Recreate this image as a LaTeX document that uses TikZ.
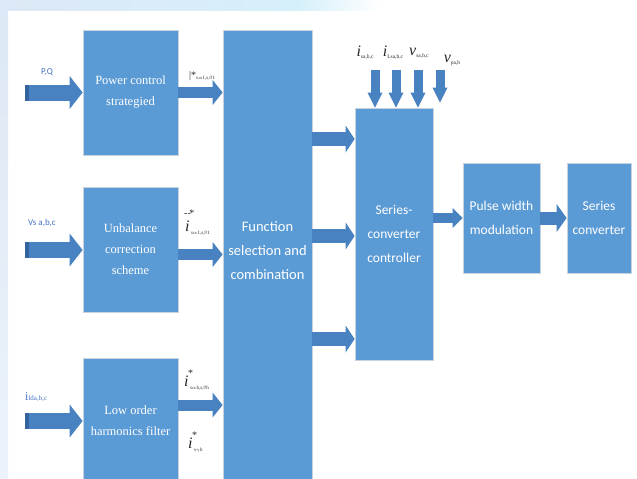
\documentclass[tikz,border=0pt]{standalone}
\usepackage{amsmath}
\usepackage{fontspec}
\setmainfont{Liberation Serif}
\newfontfamily\tnr{Liberation Serif}
\newfontfamily\carlito{Carlito}
\usetikzlibrary{arrows.meta,calc}
\definecolor{boxblue}{RGB}{91,155,213}
\definecolor{boxline}{RGB}{200,210,222}
\definecolor{arrowblue}{RGB}{72,130,192}
\definecolor{arrowdark}{RGB}{52,100,160}
\definecolor{labelblue}{RGB}{68,114,196}
\definecolor{bgblue}{RGB}{220,232,245}
\definecolor{bgcyan}{RGB}{214,240,250}
\newcommand{\isym}[2]{{\tnr\itshape\fontsize{16}{16}\selectfont #1}\raisebox{-2pt}{\tnr\fontsize{5.5}{5.5}\selectfont #2}}
\newcommand{\istar}[4][10pt]{\rlap{\raisebox{#1}{\tnr\fontsize{10}{10}\selectfont #4}}{\tnr\itshape\fontsize{16}{16}\selectfont #2}\raisebox{-3pt}{\tnr\fontsize{5}{5}\selectfont #3}}
\begin{document}
\begin{tikzpicture}[x=1pt,y=-1pt,
  blockbox/.style={draw=boxline, line width=0.8pt, fill=boxblue, text=white, align=center, inner sep=0pt},
  serifbox/.style={blockbox, font=\tnr\fontsize{12.5}{21}\selectfont},
  sansbox/.style={blockbox, font=\carlito\fontsize{13.5}{24}\selectfont},
  plaintext/.style={text=white, align=center, inner sep=0pt},
  fatarrow/.style n args={3}{draw=arrowblue, line width=#1, -{Triangle[length=#3, width=#2, line width=0pt]}},
  inlabel/.style={text=labelblue, font=\carlito\fontsize{9}{9}\selectfont, inner sep=0pt},
  mathlabel/.style={text=black!85, inner sep=0pt}
]
\useasboundingbox (0,0) rectangle (637,479);
% background edge tint
\shade[left color=bgblue, right color=bgcyan] (0,0) rectangle (300,10);
\shade[left color=bgcyan, right color=white] (300,0) rectangle (380,10);
\shade[top color=bgblue, bottom color=bgblue!55] (0,0) rectangle (8,479);

% blocks
\node[serifbox, minimum width=95pt, minimum height=125pt] (pc) at (130.5,92.5) {Power control\\strategied};
\node[serifbox, minimum width=95pt, minimum height=125pt] (ub) at (130.5,249.5) {Unbalance\\correction\\scheme};
\node[serifbox, minimum width=95pt, minimum height=126pt] (lo) at (130.5,421) {Low order\\harmonics filter};
\node[blockbox, minimum width=89pt, minimum height=470pt] (fs) at (267.5,265) {};
\node[plaintext, font=\carlito\fontsize{14.5}{24}\selectfont] (fst) at (267.5,251) {Function\\selection and\\combination};
\node[sansbox, minimum width=78pt, minimum height=252pt] (sc) at (394,234) {Series-\\converter\\controller};
\node[sansbox, minimum width=77pt, minimum height=110pt] (pwm) at (501.5,218) {Pulse width\\modulation};
\node[sansbox, minimum width=64pt, minimum height=110pt] (scv) at (599,218) {Series\\converter};

% input arrows
\coordinate (pcin) at (25,92.5);
\coordinate (ubin) at (25,250);
\coordinate (loin) at (25,421);
\foreach \c/\b in {pcin/pc, ubin/ub, loin/lo}{
  \draw[fatarrow={16pt}{33pt}{13pt}] (\c) -- (\b.west |- \c);
  \draw[draw=arrowdark, line width=16pt] (\c) -- ++(4,0);
}
\node[inlabel] (lpq) at (47,72) {P,Q};
\node[inlabel] (lvs) at (42,223) {Vs a,b,c};
\node[inlabel, anchor=west] (lil) at (25,397) {{\tnr\fontsize{12}{12}\selectfont i}{\tnr\fontsize{7}{7}\selectfont lda,b,c}};

% block outputs into function box
\draw[fatarrow={11pt}{25pt}{10pt}] (pc.east) -- (fs.west |- pc.east);
\draw[fatarrow={11pt}{25pt}{10pt}] ($(ub.east)+(0,5)$) -- ($(fs.west |- ub.east)+(0,5)$);
\draw[fatarrow={11pt}{25pt}{10pt}] ($(lo.east)+(0,-16)$) -- ($(fs.west |- lo.east)+(0,-16)$);

\node[mathlabel, anchor=west] (l1) at (189,76) {{\tnr\fontsize{10}{10}\selectfont\textbar*}\raisebox{-1.5pt}{\tnr\fontsize{5}{5}\selectfont s$\alpha$1,s$\beta$1}};
\node[mathlabel, anchor=west] (l2) at (185,223) {\istar[15pt]{i}{\;s$\alpha$1,s$\beta$1}{\hspace{-1pt}--\hspace{-1.5pt}*}};
\node[mathlabel, anchor=west] (l3) at (184,380) {\istar{i}{\;s$\alpha$h,s$\beta$h}{\hspace{4pt}*}};
\node[mathlabel, anchor=west] (l4) at (188,442) {\istar{i}{\;s$\gamma$h}{\hspace{4pt}*}};

% function -> controller
\foreach \yy in {139,236,339}{
  \draw[fatarrow={14pt}{27pt}{9pt}] (fs.east |- 0,\yy) -- (sc.west |- 0,\yy);
}
% controller -> PWM -> converter
\draw[fatarrow={10pt}{20pt}{10pt}] (sc.east |- pwm.west) -- (pwm.west);
\draw[fatarrow={13pt}{28pt}{10pt}] (pwm.east) -- (scv.west);

% top inputs of controller
\coordinate (t1) at (375,70);
\coordinate (t2) at (396,70);
\coordinate (t3) at (418,70);
\coordinate (t4) at (440,70);
\foreach \t in {t1,t2,t3}{
  \draw[fatarrow={9pt}{15pt}{15pt}] (\t) -- (sc.north -| \t);
}
\draw[fatarrow={9pt}{15pt}{15pt}] (t4) -- ($(sc.north -| t4)+(0,-5)$);
\node[mathlabel] (ti1) at (365,53) {\isym{i}{sa,b,c}};
\node[mathlabel] (ti2) at (393,53) {\isym{i}{Lsa,b,c}};
\node[mathlabel] (tv1) at (419,53) {\isym{v}{sa,b,c}};
\node[mathlabel] (tv2) at (452,60) {\isym{v}{pa,b}};
\end{tikzpicture}
\end{document}
